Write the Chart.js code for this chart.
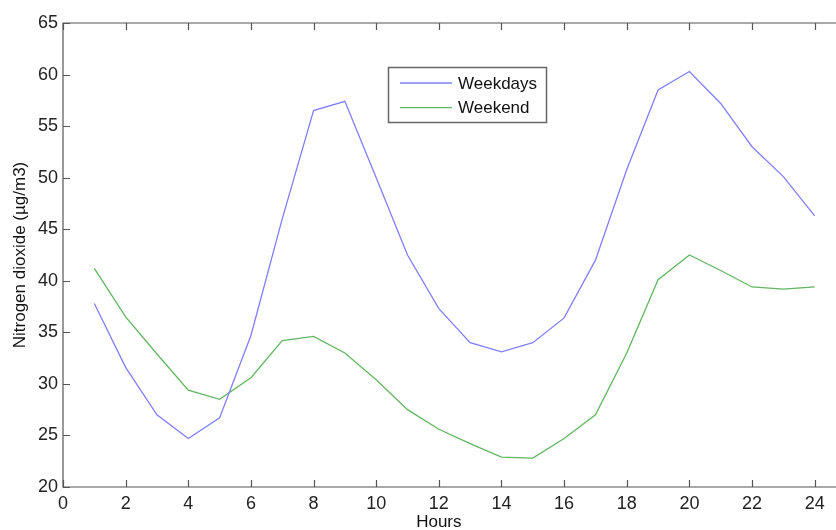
<!DOCTYPE html>
<html>
<head>
<meta charset="utf-8">
<script src="https://cdn.jsdelivr.net/npm/chart.js@4/dist/chart.umd.min.js"></script>
<style>
  html, body { margin: 0; padding: 0; background: #fff; overflow: hidden; }
  #wrap { width: 836px; height: 530px; overflow: hidden; }
</style>
</head>
<body>
<div id="wrap"><canvas id="myChart" width="850" height="530"></canvas></div>
<script>
var hours = [1,2,3,4,5,6,7,8,9,10,11,12,13,14,15,16,17,18,19,20,21,22,23,24];
var weekdays = [37.8,31.6,27.0,24.7,26.7,34.7,46.0,56.5,57.4,50.0,42.5,37.3,34.0,33.1,34.0,36.4,42.0,50.8,58.5,60.3,57.2,53.0,50.1,46.3];
var weekend = [41.2,36.5,32.9,29.4,28.5,30.6,34.2,34.6,33.0,30.4,27.5,25.6,24.2,22.9,22.8,24.7,27.0,33.0,40.1,42.5,41.0,39.4,39.2,39.4];
var xTicks = [0,2,4,6,8,10,12,14,16,18,20,22,24];
var yTicks = [20,25,30,35,40,45,50,55,60,65];
var seriesNames = ['Weekdays', 'Weekend'];
var seriesColors = ['#7f7fff', '#62b562'];

var fontFam = '"Liberation Sans", Arial, sans-serif';
var axisColor = '#555';

function toPoints(ys) {
  return hours.map(function(h, i){ return {x: h, y: ys[i]}; });
}

// axes box, inward ticks, legend and axis titles
var matlabLook = {
  id: 'matlabLook',
  afterDraw: function(chart) {
    var ctx = chart.ctx;
    var a = chart.chartArea;
    var sx = chart.scales.x, sy = chart.scales.y;
    var tl = 7;
    ctx.save();
    ctx.strokeStyle = axisColor;
    ctx.lineWidth = 1.2;
    ctx.beginPath();
    ctx.rect(a.left, a.top, a.right - a.left, a.bottom - a.top);
    ctx.stroke();
    ctx.beginPath();
    xTicks.forEach(function(v){
      var px = Math.round(sx.getPixelForValue(v)) + 0.5;
      ctx.moveTo(px, a.bottom); ctx.lineTo(px, a.bottom - tl);
      ctx.moveTo(px, a.top); ctx.lineTo(px, a.top + tl);
    });
    yTicks.forEach(function(v){
      var py = Math.round(sy.getPixelForValue(v)) + 0.5;
      ctx.moveTo(a.left, py); ctx.lineTo(a.left + tl, py);
      ctx.moveTo(a.right, py); ctx.lineTo(a.right - tl, py);
    });
    ctx.stroke();

    // legend
    var lx = 388.5, ly = 67.5, lw = 158, lh = 55;
    ctx.fillStyle = '#fff';
    ctx.fillRect(lx, ly, lw, lh);
    ctx.strokeStyle = '#666';
    ctx.lineWidth = 1.5;
    ctx.strokeRect(lx, ly, lw, lh);
    ctx.font = '17px ' + fontFam;
    ctx.textBaseline = 'middle';
    ctx.textAlign = 'left';
    seriesNames.forEach(function(name, i){
      var yy = ly + 15.5 + i * 24.6;
      ctx.strokeStyle = seriesColors[i];
      ctx.lineWidth = 1.3;
      ctx.beginPath();
      ctx.moveTo(400, yy); ctx.lineTo(452, yy);
      ctx.stroke();
      ctx.fillStyle = '#111';
      ctx.fillText(name, 458, yy + 1);
    });

    // axis titles
    ctx.fillStyle = '#111';
    ctx.textAlign = 'center';
    ctx.textBaseline = 'alphabetic';
    ctx.fillText('Hours', sx.getPixelForValue(12), 527);
    ctx.translate(25, (a.top + a.bottom) / 2);
    ctx.rotate(-Math.PI / 2);
    ctx.fillText('Nitrogen dioxide (\u00b5g/m3)', 0, 0);
    ctx.restore();
  }
};

var grath = new Chart(document.getElementById('myChart'), {
  type: 'line',
  data: {
    datasets: [
      { label: seriesNames[0], data: toPoints(weekdays), borderColor: seriesColors[0], borderWidth: 1.3, pointRadius: 0, tension: 0, fill: false },
      { label: seriesNames[1], data: toPoints(weekend), borderColor: seriesColors[1], borderWidth: 1.3, pointRadius: 0, tension: 0, fill: false }
    ]
  },
  options: {
    responsive: false,
    animation: false,
    layout: { padding: { top: 23, right: 4, left: 0, bottom: 0 } },
    plugins: { legend: { display: false }, tooltip: { enabled: false } },
    scales: {
      x: {
        type: 'linear', min: 0, max: 25,
        afterBuildTicks: function(s){ s.ticks = xTicks.map(function(v){ return {value: v}; }); },
        afterFit: function(s){ s.height = 43; },
        grid: { display: false, drawTicks: false, tickLength: 0 },
        border: { display: false },
        ticks: { padding: 6, color: '#222', font: { family: fontFam, size: 18 }, maxRotation: 0, autoSkip: false }
      },
      y: {
        type: 'linear', min: 20, max: 65,
        afterBuildTicks: function(s){ s.ticks = yTicks.map(function(v){ return {value: v}; }); },
        afterFit: function(s){ s.width = 63; },
        grid: { display: false, drawTicks: false, tickLength: 0 },
        border: { display: false },
        ticks: { padding: 5, color: '#222', font: { family: fontFam, size: 18 }, autoSkip: false }
      }
    }
  },
  plugins: [matlabLook]
});
</script>
</body>
</html>
